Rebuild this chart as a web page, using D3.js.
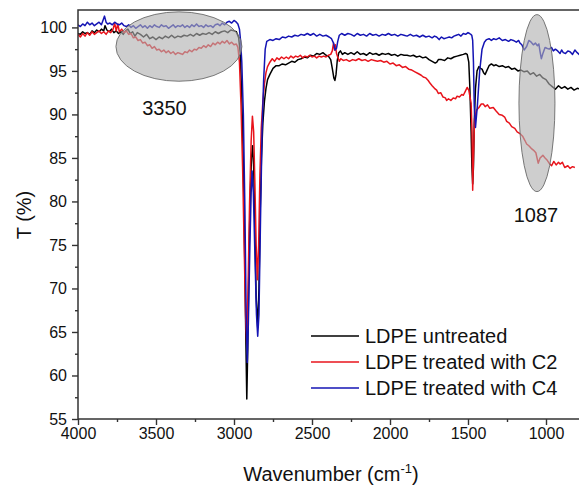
<!DOCTYPE html>
<html><head><meta charset="utf-8">
<script src="https://cdn.jsdelivr.net/npm/d3@7"></script>
<style>body{margin:0;background:#fff}svg{display:block;font-family:Arial,"Liberation Sans",sans-serif}</style>
</head><body><svg id="c" width="579" height="486"></svg>
<script>
// ---- data ----
const wnBlack = [4000,3985,3970,3955,3940,3925,3910,3895,3880,3865,3850,3835,3827,3815,3800,3785,3770,3755,3740,3725,3710,3695,3680,3665,3650,3635,3620,3600,3580,3560,3540,3520,3500,3480,3460,3440,3420,3400,3380,3360,3340,3320,3300,3280,3260,3240,3220,3200,3180,3160,3140,3120,3100,3080,3060,3040,3020,3000,2985,2970,2960,2950,2940,2930,2924,2918,2912,2905,2897,2888,2881,2874,2866,2858,2848,2840,2832,2824,2815,2805,2795,2785,2770,2750,2730,2710,2690,2670,2650,2630,2610,2590,2570,2550,2530,2510,2490,2470,2450,2430,2410,2395,2380,2370,2360,2353,2346,2338,2328,2318,2305,2290,2270,2250,2230,2210,2190,2170,2150,2130,2110,2090,2070,2050,2030,2010,1990,1970,1950,1930,1910,1890,1870,1850,1830,1810,1790,1770,1750,1730,1710,1700,1690,1670,1650,1630,1610,1590,1570,1550,1530,1515,1505,1495,1488,1480,1475,1470,1465,1460,1452,1442,1430,1420,1410,1400,1390,1380,1365,1350,1335,1320,1300,1280,1260,1240,1220,1200,1180,1160,1140,1120,1100,1080,1060,1040,1020,1000,980,960,940,920,900,880,860,840,820,800,780,760,750];
const tBlack = [99.3,99.2,99.5,99.3,99.4,99.2,99.6,99.4,99.7,99.5,99.8,99.6,100.2,99.7,99.5,99.8,99.4,99.6,99.3,99.5,99.2,99.6,99.8,99.3,99.5,99.0,99.4,99.2,98.9,99.2,98.7,98.9,98.6,98.9,98.7,99.0,98.8,99.1,98.8,99.0,98.9,99.1,99.0,99.2,99.0,99.3,99.1,99.3,99.2,99.4,99.2,99.5,99.3,99.5,99.6,99.4,99.7,99.6,99.5,98.8,97,92,84,72,64,57.3,63,72,80,85,86.4,84,77,69,65.5,70,79,85,89,91.5,93,94,94.6,95.3,95.6,95.6,95.8,95.7,95.9,96.1,96.0,96.3,96.4,96.6,96.5,96.8,96.7,97.0,96.9,97.1,96.8,96.7,96.3,95.3,94.2,93.9,94.6,96.2,97.1,97.3,96.9,97.1,96.9,97.1,96.9,97.2,96.9,97.0,96.8,97.1,96.9,97.0,96.8,97.0,96.9,97.0,96.8,96.9,96.7,96.9,96.8,96.8,96.7,96.8,96.6,96.7,96.5,96.6,96.3,96.1,95.9,96.0,96.3,96.3,96.2,96.5,96.4,96.6,96.7,96.8,96.9,97.0,96.9,96.0,93,88,84,82.0,84,89,93,95,95.5,95.3,95.2,94.8,94.6,95.0,95.6,95.8,95.6,95.7,95.5,95.6,95.4,95.5,95.2,95.3,95.0,95.1,94.9,95.0,94.6,94.8,94.4,94.6,94.2,94.0,93.5,93.2,92.9,93.3,93.0,93.2,92.9,93.1,92.8,93.0,92.9,93.0,92.9];

const wnRed = [4000,3985,3970,3955,3940,3925,3910,3895,3880,3865,3850,3835,3820,3805,3790,3775,3765,3755,3745,3735,3720,3705,3690,3675,3660,3645,3630,3615,3600,3585,3570,3555,3540,3525,3510,3495,3480,3465,3450,3435,3420,3405,3390,3375,3360,3345,3330,3315,3300,3285,3270,3255,3240,3225,3210,3195,3180,3165,3150,3135,3120,3105,3090,3075,3060,3045,3030,3015,3000,2985,2975,2965,2955,2945,2935,2926,2918,2910,2900,2890,2882,2874,2866,2858,2850,2842,2834,2825,2815,2805,2795,2785,2770,2755,2740,2725,2710,2695,2680,2665,2650,2635,2620,2605,2590,2575,2560,2545,2530,2515,2500,2485,2470,2455,2440,2425,2410,2395,2380,2370,2362,2355,2350,2343,2335,2325,2315,2300,2280,2260,2240,2220,2200,2180,2160,2140,2120,2100,2080,2060,2040,2020,2000,1980,1960,1940,1920,1900,1880,1860,1840,1820,1800,1787,1770,1755,1744,1730,1715,1701,1690,1675,1660,1645,1637,1625,1610,1595,1580,1570,1555,1540,1530,1519,1505,1495,1487,1480,1474,1470,1465,1458,1445,1430,1415,1402,1390,1375,1360,1338,1320,1300,1280,1265,1252,1235,1220,1200,1185,1167,1150,1135,1124,1110,1095,1081,1065,1050,1038,1020,1006,995,980,964,950,935,920,910,895,880,860,846,830,815,800,788,770,750];
const tRed = [99.2,98.9,99.3,99.0,99.4,99.1,99.5,99.2,99.4,99.6,99.3,99.5,99.2,99.6,99.4,99.8,100.5,99.6,100.4,99.5,99.8,99.4,99.6,99.2,99.3,98.8,98.9,98.5,98.6,98.2,98.3,97.9,98.0,97.6,97.8,97.4,97.5,97.2,97.4,97.1,97.3,97.0,97.2,96.9,97.1,97.0,96.9,97.2,97.1,97.4,97.2,97.5,97.4,97.7,97.6,97.9,97.7,98.0,97.8,98.2,98.0,98.3,98.1,98.4,98.2,98.5,98.1,98.3,98.0,98.1,97.7,96,91,84,75,67,63.5,70,80,87,89.8,88,82,75,71,75,83,88.5,91.5,93.5,94.8,95.5,96.0,96.4,96.1,96.5,96.3,96.6,96.4,96.6,96.4,96.7,96.5,96.7,96.6,96.8,96.5,96.7,96.6,96.8,96.6,96.7,96.5,96.7,96.6,96.7,96.6,96.8,96.9,97.3,98.2,97.4,98.0,97.0,96.6,96.1,96.4,96.2,96.3,96.1,96.3,96.2,96.4,96.2,96.3,96.1,96.3,96.2,96.1,96.2,96.0,96.1,95.8,95.9,95.6,95.7,95.4,95.5,95.2,95.1,94.9,94.7,94.5,94.3,94.2,93.9,93.6,93.3,93.0,92.8,92.4,92.5,92.0,91.9,91.6,91.8,91.6,91.9,91.8,92.1,92.0,92.3,92.2,92.6,93.1,92.8,92.0,91.3,88,81.3,85,89.5,90.5,90.8,91.2,91.2,90.9,91.1,90.7,90.8,90.4,90.0,89.9,89.7,89.2,89.0,88.6,88.4,88.0,87.8,87.5,87.0,86.6,86.4,86.1,85.9,85.6,84.4,85.0,85.3,85.0,84.8,84.4,84.1,84.6,84.2,84.5,84.3,84.5,83.9,84.1,83.8,84.0,83.9];

const wnBlue = [4000,3985,3970,3955,3940,3925,3910,3895,3880,3865,3850,3840,3830,3820,3810,3795,3780,3765,3750,3735,3720,3705,3690,3675,3660,3645,3630,3615,3600,3585,3570,3555,3540,3525,3510,3495,3480,3465,3450,3435,3420,3405,3390,3375,3360,3345,3330,3315,3300,3285,3270,3255,3240,3225,3210,3195,3180,3165,3150,3135,3120,3105,3090,3075,3060,3045,3030,3015,3000,2985,2975,2965,2958,2950,2940,2930,2922,2915,2908,2898,2890,2884,2876,2866,2856,2848,2840,2830,2820,2810,2800,2790,2770,2750,2730,2710,2690,2670,2650,2630,2610,2590,2570,2550,2530,2510,2490,2470,2450,2430,2410,2390,2375,2362,2352,2343,2335,2325,2310,2290,2270,2250,2230,2210,2190,2170,2150,2130,2110,2090,2070,2050,2030,2010,1990,1970,1950,1930,1910,1890,1870,1850,1830,1810,1790,1770,1750,1730,1715,1701,1685,1670,1655,1637,1620,1605,1590,1575,1560,1545,1530,1515,1500,1490,1482,1476,1470,1465,1460,1452,1440,1425,1410,1395,1381,1365,1350,1335,1320,1300,1280,1260,1240,1225,1209,1190,1175,1167,1155,1140,1124,1110,1095,1081,1068,1055,1046,1038,1030,1020,1006,995,980,965,953,940,925,910,900,889,875,860,846,830,815,800,788,770,750];
const tBlue = [100.3,100.1,100.4,100.2,100.6,100.3,100.5,100.2,100.4,100.6,100.3,100.8,101.3,100.6,100.4,100.5,100.3,100.6,100.4,100.3,100.5,100.2,100.1,100.3,100.0,100.2,99.9,100.1,100.3,100.0,100.2,99.9,100.2,100.0,100.3,100.1,100.0,100.3,100.1,100.2,99.9,100.1,100.3,100.0,100.2,100.1,100.3,100.0,100.2,100.0,100.3,100.1,100.4,100.1,100.2,100.0,100.3,100.1,100.2,100.0,100.3,100.4,100.2,100.5,100.3,100.6,100.7,100.5,100.8,100.6,100.4,99.8,98.5,96,90,79,67,61.5,66,75,81,83.5,81,74,67,64.5,67,78,88,94,97.5,98.4,98.6,98.5,98.7,98.6,98.9,98.8,99.0,98.9,99.1,99.0,99.2,99.1,99.3,99.1,99.3,99.0,99.2,99.0,99.1,98.9,98.7,98.2,97.4,97.6,98.4,99.1,99.3,99.1,99.3,99.2,99.0,99.3,99.1,99.2,99.0,99.3,99.1,99.2,99.0,99.2,99.1,99.3,99.1,99.2,99.0,99.2,99.1,99.0,99.2,99.0,99.1,98.9,99.1,98.9,99.0,98.8,99.0,98.9,98.6,98.9,98.7,98.8,98.9,98.8,99.0,99.1,99.2,99.0,99.3,99.2,99.4,99.3,99.2,99.1,98.5,96,91,88.5,91,95,97.5,98.3,98.6,98.7,98.5,98.7,98.6,98.8,98.5,98.6,98.4,98.6,98.5,98.3,98.5,98.2,98.0,97.4,97.8,98.5,98.3,98.0,98.2,97.9,98.1,97.2,96.4,97.0,97.7,97.6,97.5,97.7,97.3,97.5,97.3,97.0,97.4,97.1,97.0,97.3,97.2,96.9,97.4,97.1,96.9,97.0,96.8,96.9,96.7];

const seriesNames = ["LDPE untreated","LDPE treated with C2","LDPE treated with C4"];
const seriesColors = ["#000000","#e8141c","#1414b4"];
const xTicks = [4000,3500,3000,2500,2000,1500,1000];
const yTicks = [55,60,65,70,75,80,85,90,95,100];
const annotations = [{label:"3350", wn:3350}, {label:"1087", wn:1087}];

// ---- layout ----
const svg = d3.select("#c");
const L = 78, T = 10, B = 419, R = 585;
const x = d3.scaleLinear().domain([4000, 750]).range([L, R]);
const y = d3.scaleLinear().domain([55, 102]).range([B, T]);

const defs = svg.append("defs");
defs.append("clipPath").attr("id","clip").append("rect")
  .attr("x", L).attr("y", T).attr("width", R - L).attr("height", B - T);

const line = d3.line().x(d => x(d[0])).y(d => y(d[1]));
const data = [
  d3.zip(wnBlack, tBlack),
  d3.zip(wnRed, tRed),
  d3.zip(wnBlue, tBlue)
];
const g = svg.append("g").attr("clip-path","url(#clip)");
data.forEach((d, i) => {
  g.append("path").datum(d).attr("d", line)
    .attr("fill","none").attr("stroke", seriesColors[i])
    .attr("stroke-width", 1.5).attr("stroke-linejoin","round");
});

// highlight ellipses
g.append("ellipse").attr("cx", x(3353)).attr("cy", y(97.8)).attr("rx", 63).attr("ry", 34.7)
  .attr("fill","#b0b0b0").attr("fill-opacity",0.62).attr("stroke","#6a6a6a").attr("stroke-width",0.9);
g.append("ellipse").attr("cx", x(1058)).attr("cy", y(91.3)).attr("rx", 18).attr("ry", 88.5)
  .attr("fill","#b0b0b0").attr("fill-opacity",0.62).attr("stroke","#6a6a6a").attr("stroke-width",0.9);

// frame
svg.append("rect").attr("x", L).attr("y", T).attr("width", R - L).attr("height", B - T)
  .attr("fill","none").attr("stroke","#333").attr("stroke-width",1.5);

// axes
const xAxis = d3.axisBottom(x).tickValues(xTicks).tickSize(6).tickPadding(3).tickFormat(d3.format("d"));
const xMinor = d3.axisBottom(x).tickValues(d3.range(3750, 750, -500)).tickSize(3).tickFormat("");
const yAxis = d3.axisLeft(y).tickValues(yTicks).tickSize(6).tickPadding(5);
const yMinor = d3.axisLeft(y).tickValues(d3.range(57.5, 102, 5)).tickSize(3).tickFormat("");

function style(sel){
  sel.select(".domain").remove();
  sel.selectAll("line").attr("stroke","#333").attr("stroke-width",1.4);
  sel.selectAll("text").attr("font-size","16px").attr("fill","#111")
    .attr("font-family","Arial, 'Liberation Sans', sans-serif");
}
svg.append("g").attr("transform",`translate(0,${B})`).call(xAxis).call(style);
svg.append("g").attr("transform",`translate(0,${B})`).call(xMinor).call(style);
svg.append("g").attr("transform",`translate(${L},0)`).call(yAxis).call(style);
svg.append("g").attr("transform",`translate(${L},0)`).call(yMinor).call(style);

// axis titles
const xt = svg.append("text").attr("x", 331).attr("y", 481).attr("text-anchor","middle")
  .attr("font-size","20px").attr("fill","#111");
xt.append("tspan").text("Wavenumber (cm");
xt.append("tspan").attr("font-size","13px").attr("dy",-8).text("-1");
xt.append("tspan").attr("dy",8).text(")");
svg.append("text").attr("transform","translate(31,215) rotate(-90)").attr("text-anchor","middle")
  .attr("font-size","20px").attr("fill","#111").text("T (%)");

// annotation labels
svg.append("text").attr("x", 164.5).attr("y", 115).attr("text-anchor","middle")
  .attr("font-size","20px").attr("fill","#111").text(annotations[0].label);
svg.append("text").attr("x", 536).attr("y", 222).attr("text-anchor","middle")
  .attr("font-size","20px").attr("fill","#111").text(annotations[1].label);

// legend
const lg = svg.append("g");
seriesNames.forEach((n, i) => {
  const yy = 336 + i * 26;
  lg.append("line").attr("x1",311).attr("x2",359).attr("y1",yy).attr("y2",yy)
    .attr("stroke", seriesColors[i]).attr("stroke-width",1.6);
  lg.append("text").attr("x",365).attr("y",yy + 7).attr("font-size","20px").attr("fill","#111").text(n);
});
</script></body></html>
